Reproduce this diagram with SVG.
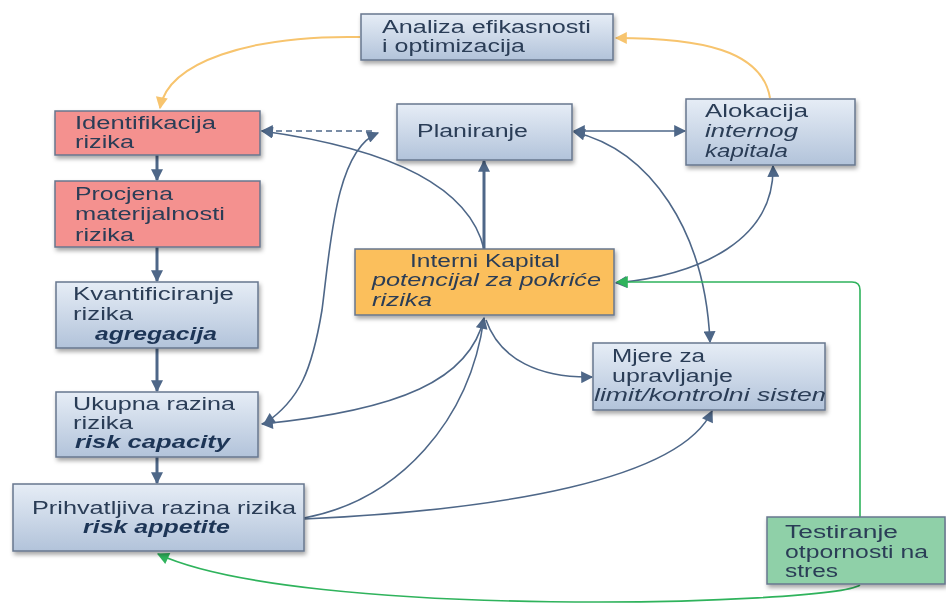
<svg xmlns="http://www.w3.org/2000/svg" width="946" height="612" viewBox="0 0 946 612">
<style>
text{font-family:"Liberation Sans",Arial,sans-serif;font-size:17.5px;fill:#2b3d57}
.i{font-style:italic}
.bi{font-style:italic;font-weight:bold;fill:#1f3556}
.nb{stroke:#67778e;stroke-width:1.5}
.blue{fill:url(#gb)}
.red{fill:#f4918f}
.org{fill:#fbbf5c}
.grn{fill:#8fd0a8}
.c{fill:none;stroke:#4e6788;stroke-width:1.6}
.ct{fill:none;stroke:#4e6788;stroke-width:3}
.co{fill:none;stroke:#f7c46e;stroke-width:2}
.cg{fill:none;stroke:#2fb35c;stroke-width:1.6}
</style>
<defs>
<linearGradient id="gb" x1="0" y1="0" x2="0" y2="1"><stop offset="0" stop-color="#e6edf6"/><stop offset="1" stop-color="#b2c3da"/></linearGradient>
<filter id="sh" x="-10%" y="-10%" width="130%" height="140%"><feDropShadow dx="1.5" dy="3" stdDeviation="2" flood-color="#000" flood-opacity="0.35"/></filter>
<marker id="a" viewBox="0 0 10 10" refX="9" refY="5" markerWidth="13" markerHeight="12" markerUnits="userSpaceOnUse" orient="auto-start-reverse"><path d="M0,0 L10,5 L0,10 z" fill="#4e6788"/></marker>
<marker id="ao" viewBox="0 0 10 10" refX="9" refY="5" markerWidth="13" markerHeight="12" markerUnits="userSpaceOnUse" orient="auto-start-reverse"><path d="M0,0 L10,5 L0,10 z" fill="#f7c46e"/></marker>
<marker id="ag" viewBox="0 0 10 10" refX="9" refY="5" markerWidth="13" markerHeight="12" markerUnits="userSpaceOnUse" orient="auto-start-reverse"><path d="M0,0 L10,5 L0,10 z" fill="#2fb35c"/></marker>
<clipPath id="mjclip"><rect x="593" y="343" width="232" height="67"/></clipPath>
</defs>
<rect width="946" height="612" fill="#fff"/>

<g id="connectors">
<path class="co" d="M360 37 C250 35 168 62 160 108" marker-end="url(#ao)"/>
<path class="co" d="M770 98 C762 50 700 38 616 38" marker-end="url(#ao)"/>
<path class="ct" d="M157 155 V180" marker-end="url(#a)"/>
<path class="ct" d="M157 247 V281" marker-end="url(#a)"/>
<path class="ct" d="M157 348 V391" marker-end="url(#a)"/>
<path class="ct" d="M157 457 V483" marker-end="url(#a)"/>
<path class="c" d="M372 131 H262" stroke-dasharray="6,4" marker-end="url(#a)"/>
<path class="c" d="M264 424 C300 400 312 370 322 310 C330 250 335 150 378 133" marker-start="url(#a)" marker-end="url(#a)"/>
<path class="c" d="M484 249 C470 190 400 150 262 131" marker-end="url(#a)"/>
<path class="ct" d="M484 249 V161" marker-end="url(#a)"/>
<path class="c" d="M574 131 H685" marker-start="url(#a)" marker-end="url(#a)"/>
<path class="c" d="M574 132 C650 150 705 230 710 342" marker-start="url(#a)" marker-end="url(#a)"/>
<path class="c" d="M773 166 C775 240 700 275 616 283" marker-start="url(#a)" marker-end="url(#a)"/>
<path class="c" d="M484 318 C470 380 400 410 262 424" marker-start="url(#a)" marker-end="url(#a)"/>
<path class="c" d="M304 518 C400 500 470 420 484 318"/>
<path class="c" d="M486 320 C500 360 540 378 592 377" marker-end="url(#a)"/>
<path class="c" d="M304 519 C500 510 680 480 712 411" marker-end="url(#a)"/>
<path class="cg" d="M860 517 L860 290 Q860 282 852 282 L617 282" marker-end="url(#ag)"/>
<path class="cg" d="M860 585 C830 605 300 620 158 554" marker-end="url(#ag)"/>
</g>

<g id="analiza" filter="url(#sh)"><rect class="blue nb" x="361" y="14" width="252" height="46"/>
<text x="382" y="33" textLength="209" lengthAdjust="spacingAndGlyphs">Analiza efikasnosti</text>
<text x="382" y="52" textLength="143" lengthAdjust="spacingAndGlyphs">i optimizacija</text></g>

<g id="identifikacija" filter="url(#sh)"><rect class="red nb" x="55" y="111" width="205" height="44"/>
<text x="75" y="129" textLength="141" lengthAdjust="spacingAndGlyphs">Identifikacija</text>
<text x="75" y="148" textLength="59" lengthAdjust="spacingAndGlyphs">rizika</text></g>

<g id="procjena" filter="url(#sh)"><rect class="red nb" x="55" y="181" width="205" height="66"/>
<text x="75" y="200" textLength="98" lengthAdjust="spacingAndGlyphs">Procjena</text>
<text x="75" y="220" textLength="150" lengthAdjust="spacingAndGlyphs">materijalnosti</text>
<text x="75" y="241" textLength="59" lengthAdjust="spacingAndGlyphs">rizika</text></g>

<g id="kvantificiranje" filter="url(#sh)"><rect class="blue nb" x="56" y="282" width="202" height="66"/>
<text x="73" y="300" textLength="161" lengthAdjust="spacingAndGlyphs">Kvantificiranje</text>
<text x="73" y="320" textLength="60" lengthAdjust="spacingAndGlyphs">rizika</text>
<text class="bi" x="95" y="340" textLength="122" lengthAdjust="spacingAndGlyphs">agregacija</text></g>

<g id="ukupna" filter="url(#sh)"><rect class="blue nb" x="56" y="392" width="202" height="65"/>
<text x="73" y="410" textLength="162" lengthAdjust="spacingAndGlyphs">Ukupna razina</text>
<text x="73" y="429" textLength="60" lengthAdjust="spacingAndGlyphs">rizika</text>
<text class="bi" x="75" y="448" textLength="155" lengthAdjust="spacingAndGlyphs">risk capacity</text></g>

<g id="prihvatljiva" filter="url(#sh)"><rect class="blue nb" x="13" y="484" width="291" height="67"/>
<text x="32" y="514" textLength="264" lengthAdjust="spacingAndGlyphs">Prihvatljiva razina rizika</text>
<text class="bi" x="83" y="533" textLength="147" lengthAdjust="spacingAndGlyphs">risk appetite</text></g>

<g id="planiranje" filter="url(#sh)"><rect class="blue nb" x="397" y="104" width="175" height="56"/>
<text x="417" y="137" textLength="111" lengthAdjust="spacingAndGlyphs">Planiranje</text></g>

<g id="alokacija" filter="url(#sh)"><rect class="blue nb" x="686" y="99" width="169" height="66"/>
<text x="705" y="117" textLength="103" lengthAdjust="spacingAndGlyphs">Alokacija</text>
<text class="i" x="705" y="137" textLength="93" lengthAdjust="spacingAndGlyphs">internog</text>
<text class="i" x="705" y="157" textLength="83" lengthAdjust="spacingAndGlyphs">kapitala</text></g>

<g id="interni" filter="url(#sh)"><rect class="org nb" x="355" y="249" width="259" height="66"/>
<text x="410" y="267" textLength="150" lengthAdjust="spacingAndGlyphs">Interni Kapital</text>
<text class="i" x="372" y="286" textLength="229" lengthAdjust="spacingAndGlyphs">potencijal za pokriće</text>
<text class="i" x="372" y="306" textLength="60" lengthAdjust="spacingAndGlyphs">rizika</text></g>

<g id="mjere" filter="url(#sh)"><rect class="blue nb" x="593" y="343" width="232" height="67"/>
<text x="612" y="362" textLength="93" lengthAdjust="spacingAndGlyphs">Mjere za</text>
<text x="612" y="382" textLength="121" lengthAdjust="spacingAndGlyphs">upravljanje</text>
<g clip-path="url(#mjclip)"><text class="i" x="594" y="401" textLength="240" lengthAdjust="spacingAndGlyphs">limit/kontrolni sistem</text></g></g>

<g id="testiranje" filter="url(#sh)"><rect class="grn nb" x="767" y="517" width="178" height="67"/>
<text x="785" y="538" textLength="113" lengthAdjust="spacingAndGlyphs">Testiranje</text>
<text x="785" y="558" textLength="143" lengthAdjust="spacingAndGlyphs">otpornosti na</text>
<text x="785" y="577" textLength="53" lengthAdjust="spacingAndGlyphs">stres</text></g>
</svg>
